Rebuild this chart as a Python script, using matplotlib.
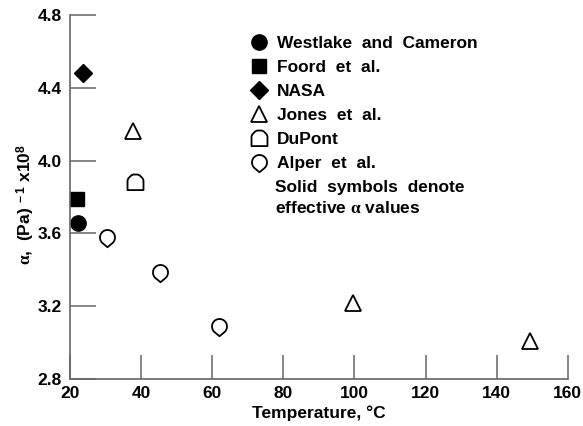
import numpy as np
import matplotlib
matplotlib.use("Agg")
import matplotlib.pyplot as plt
from matplotlib.path import Path

plt.rcParams['font.family'] = ['Liberation Sans', 'DejaVu Sans']
plt.rcParams['font.weight'] = 'bold'
plt.rcParams['mathtext.fontset'] = 'custom'
plt.rcParams['mathtext.rm'] = 'Liberation Sans:bold'
plt.rcParams['mathtext.bf'] = 'Liberation Sans:bold'
plt.rcParams['mathtext.it'] = 'Liberation Serif'

# data (T in degC, alpha in 1/Pa x 1e8)
westlake_T = [22.4]
westlake_a = [3.66]
foord_T = [22.0]
foord_a = [3.79]
nasa_T = [23.7]
nasa_a = [4.48]
jones_T = [37.8, 99.6, 149.3]
jones_a = [4.16, 3.22, 3.01]
dupont_T = [38.3]
dupont_a = [3.88]
alper_T = [30.5, 45.3, 61.9]
alper_a = [3.58, 3.39, 3.09]

x_ticks = [20, 40, 60, 80, 100, 120, 140, 160]
y_ticks = [2.8, 3.2, 3.6, 4.0, 4.4, 4.8]

# custom marker shapes
arc = Path.arc(-50, 230)
v = list(arc.vertices) + [(0, -1.3), (np.cos(np.radians(-50)), np.sin(np.radians(-50)))]
tear = Path(v)  # circle with a point at the bottom

arc2 = Path.arc(0, 180)
v2 = list(arc2.vertices) + [(-1, -0.95), (1, -0.95), (1, 0)]
dome = Path(v2)

fig = plt.figure(figsize=(5.83, 4.26), dpi=100)
ax = fig.add_axes([0.120, 0.110, 0.854, 0.855])

kw = dict(linestyle='none', clip_on=False, color='black')
ax.plot(westlake_T, westlake_a, marker='o', markersize=11, label='Westlake  and  Cameron', **kw)
ax.plot(foord_T, foord_a, marker='s', markersize=10.5, label='Foord  et  al.', **kw)
ax.plot(nasa_T, nasa_a, marker='D', markersize=9.5, label='NASA', **kw)
ax.plot(jones_T, jones_a, marker='^', markersize=11, markerfacecolor='white',
        markeredgewidth=1.3, label='Jones  et  al.', **kw)
ax.plot(dupont_T, dupont_a, marker=dome, markersize=11.5, markerfacecolor='white',
        markeredgewidth=1.3, label='DuPont', **kw)
ax.plot(alper_T, alper_a, marker=tear, markersize=14, markerfacecolor='white',
        markeredgewidth=1.3, label='Alper  et  al.', **kw)

ax.set_xlim(20, 160)
ax.set_ylim(2.8, 4.8)
ax.set_xticks(x_ticks)
ax.set_yticks(y_ticks)
ax.set_yticklabels([f"{t:.1f}" for t in y_ticks])

for s in ['top', 'right']:
    ax.spines[s].set_visible(False)
for s in ['left', 'bottom']:
    ax.spines[s].set_color('#666666')
    ax.spines[s].set_linewidth(1.2)
ax.tick_params(axis='x', direction='in', length=17, width=1.1, color='#666666',
               labelsize=12.5, pad=5)
ax.tick_params(axis='y', direction='in', length=19, width=1.1, color='#666666',
               labelsize=12.5, pad=6)
for lab in ax.get_xticklabels() + ax.get_yticklabels():
    lab.set_fontweight('bold')

ax.set_xlabel('Temperature, °C', fontsize=12.5, fontweight='bold', labelpad=3)
ax.set_ylabel(r'$\alpha$,  (Pa)$^{\ -1}$ x10$^{8}$', fontsize=12.5, fontweight='bold')
ax.yaxis.set_label_coords(-0.066, 0.48)

leg = ax.legend(loc='upper left', bbox_to_anchor=(0.345, 0.965), frameon=False,
                fontsize=12.5, handlelength=1.0, handletextpad=0.55,
                labelspacing=0.5, borderpad=0, numpoints=1)
for t in leg.get_texts():
    t.set_fontweight('bold')

fig.text(275 / 583, 1 - 188 / 426, 'Solid  symbols  denote', fontsize=12.5,
         fontweight='bold', va='center', ha='left')
fig.text(275 / 583, 1 - 208 / 426, r'effective $\alpha$ values', fontsize=12.5,
         fontweight='bold', va='center', ha='left')

fig.savefig('out.png', dpi=100)
